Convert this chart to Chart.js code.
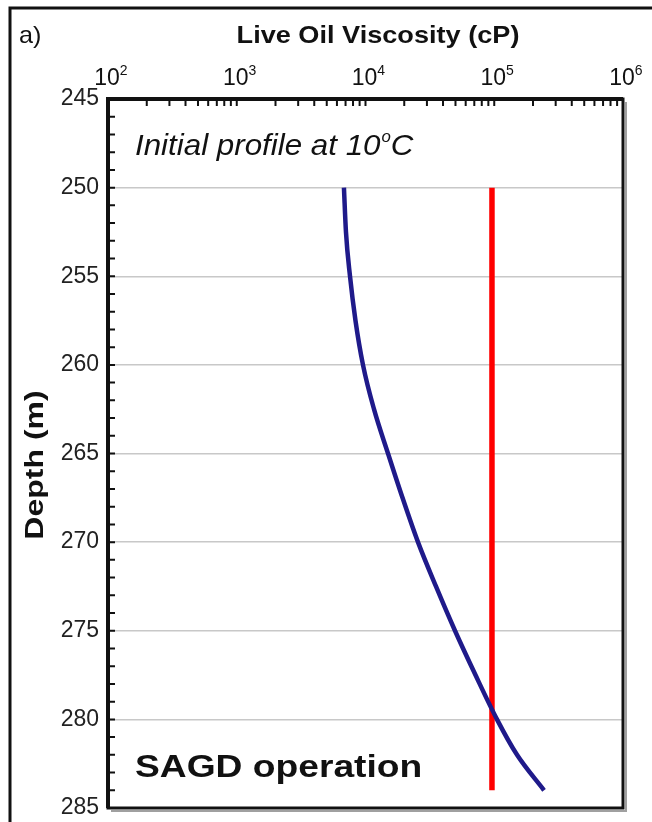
<!DOCTYPE html>
<html>
<head>
<meta charset="utf-8">
<script src="https://cdn.jsdelivr.net/npm/chart.js@4.4.1/dist/chart.umd.min.js"></script>
<style>
    html, body { margin: 0; padding: 0; background: #fff; }
    #wrap { width: 652px; height: 822px; }
</style>
</head>
<body>
<div id="wrap"><canvas id="viscChart"></canvas></div>
<script>
// Initial live oil viscosity profile at 10 C
const depthM = [250, 252.5, 255, 257.5, 260, 262.5, 265, 267.5, 270, 272.5, 275, 277.5, 280, 282, 284];
const viscosityCp = [6800, 7050, 7580, 8360, 9560, 11640, 14960, 19390, 25570, 35280, 49570, 71510, 105000, 150200, 243500];

// SAGD operation line
const sagdDepthM = [250, 284];
const sagdViscosityCp = [96000, 96000];

// axes
const depthMin = 245;
const depthMax = 285;
const depthStep = 5;
const viscExponents = [2, 3, 4, 5, 6];

const FONT = "'Liberation Sans', Arial, sans-serif";
const INK = '#111';

function drawText(ctx, text, x, y, font, sx, align) {
    ctx.save();
    ctx.font = font;
    const w = ctx.measureText(text).width * sx;
    let x0 = x;
    if (align === 'center') x0 = x - w / 2;
    if (align === 'right') x0 = x - w;
    ctx.translate(x0, y);
    ctx.scale(sx, 1);
    ctx.textAlign = 'left';
    ctx.textBaseline = 'alphabetic';
    ctx.fillText(text, 0, 0);
    ctx.restore();
    return w;
}

const framePlugin = {
    id: 'frame',
    afterDraw(chart) {
        const ctx = chart.ctx;
        const a = chart.chartArea;
        const xs = chart.scales.x;
        const ys = chart.scales.y;

        ctx.save();
        ctx.fillStyle = INK;
        ctx.strokeStyle = INK;

        // outer panel frame (cropped at right and bottom)
        ctx.lineWidth = 3;
        ctx.beginPath();
        ctx.moveTo(10, 822);
        ctx.lineTo(10, 8);
        ctx.lineTo(652, 8);
        ctx.stroke();

        // drop shadow of the plot box
        ctx.strokeStyle = '#a0a0a0';
        ctx.lineWidth = 2;
        ctx.beginPath();
        ctx.moveTo(a.right + 3, a.top + 3);
        ctx.lineTo(a.right + 3, a.bottom + 3);
        ctx.lineTo(a.left + 3, a.bottom + 3);
        ctx.stroke();

        // plot box
        ctx.strokeStyle = INK;
        ctx.lineWidth = 3;
        ctx.strokeRect(a.left, a.top, a.right - a.left, a.bottom - a.top);
        ctx.lineWidth = 4;
        ctx.beginPath();
        ctx.moveTo(a.left, a.bottom);
        ctx.lineTo(a.left, a.top);
        ctx.lineTo(a.right, a.top);
        ctx.stroke();

        // inward ticks: every metre on depth, 1..9 per decade on viscosity
        ctx.lineWidth = 2;
        ctx.beginPath();
        for (let d = depthMin; d <= depthMax; d++) {
            const y = ys.getPixelForValue(d);
            ctx.moveTo(a.left, y);
            ctx.lineTo(a.left + 7, y);
        }
        for (let i = 0; i < viscExponents.length - 1; i++) {
            for (let m = 1; m < 10; m++) {
                const x = xs.getPixelForValue(m * Math.pow(10, viscExponents[i]));
                ctx.moveTo(x, a.top);
                ctx.lineTo(x, a.top + 7);
            }
        }
        ctx.stroke();

        // top tick labels 10^n
        viscExponents.forEach(e => {
            const x = xs.getPixelForValue(Math.pow(10, e));
            ctx.font = '23px ' + FONT;
            const w = ctx.measureText('10').width;
            const left = x - w / 2 - 1;
            drawText(ctx, '10', left, 85, '23px ' + FONT, 1, 'left');
            drawText(ctx, String(e), left + w, 75, '14px ' + FONT, 1, 'left');
        });

        // titles
        drawText(ctx, 'a)', 19, 43, '24px ' + FONT, 1.05, 'left');
        drawText(ctx, 'Live Oil Viscosity (cP)', 378, 43, 'bold 24px ' + FONT, 1.13, 'center');

        ctx.save();
        ctx.translate(34, 465);
        ctx.rotate(-Math.PI / 2);
        drawText(ctx, 'Depth (m)', 0, 9, 'bold 25px ' + FONT, 1.28, 'center');
        ctx.restore();

        // annotations
        let x = 135;
        x += drawText(ctx, 'Initial profile at 10', x, 155, 'italic 29px ' + FONT, 1.08, 'left');
        x += drawText(ctx, 'o', x + 1, 142, 'italic 16px ' + FONT, 1.05, 'left') + 1;
        drawText(ctx, 'C', x, 155, 'italic 29px ' + FONT, 1.08, 'left');

        drawText(ctx, 'SAGD operation', 135, 777, 'bold 31px ' + FONT, 1.2, 'left');

        ctx.restore();
    }
};

const ctx = document.getElementById('viscChart').getContext('2d');

new Chart(ctx, {
    type: 'scatter',
    data: {
        datasets: [
            {
                label: 'Initial profile at 10\u00b0C',
                data: depthM.map((d, i) => ({ x: viscosityCp[i], y: d })),
                showLine: true,
                borderColor: '#1f1a8a',
                borderWidth: 4.5,
                pointRadius: 0,
                cubicInterpolationMode: 'monotone',
                fill: false
            },
            {
                label: 'SAGD operation',
                data: sagdDepthM.map((d, i) => ({ x: sagdViscosityCp[i], y: d })),
                showLine: true,
                borderColor: '#ff0000',
                borderWidth: 5.5,
                borderCapStyle: 'butt',
                pointRadius: 0,
                fill: false
            }
        ]
    },
    options: {
        responsive: true,
        maintainAspectRatio: false,
        animation: false,
        layout: {
            padding: { left: 0, top: 99, right: 29, bottom: 14 }
        },
        plugins: {
            legend: { display: false },
            tooltip: { enabled: false }
        },
        scales: {
            x: {
                type: 'logarithmic',
                position: 'top',
                min: Math.pow(10, viscExponents[0]),
                max: Math.pow(10, viscExponents[viscExponents.length - 1]),
                grid: { display: false },
                border: { display: false },
                ticks: { display: false },
                afterFit(scale) { scale.height = 0; }
            },
            y: {
                type: 'linear',
                reverse: true,
                min: depthMin,
                max: depthMax,
                border: { display: false },
                grid: {
                    color: '#c8c8c8',
                    lineWidth: 1.5,
                    drawTicks: false
                },
                ticks: {
                    stepSize: depthStep,
                    padding: 9,
                    color: '#222',
                    font: { family: FONT, size: 23 }
                },
                afterFit(scale) {
                    scale.width = 108;
                    scale.paddingTop = 0;
                    scale.paddingBottom = 0;
                }
            }
        }
    },
    plugins: [framePlugin]
});
</script>
</body>
</html>
